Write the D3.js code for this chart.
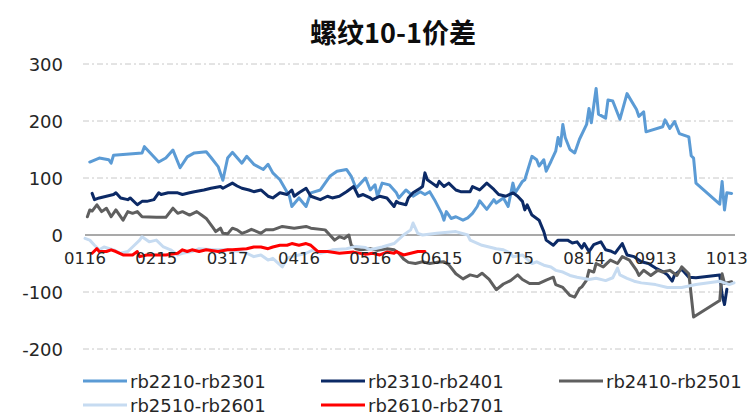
<!DOCTYPE html>
<html>
<head>
<meta charset="utf-8">
<script src="https://cdn.jsdelivr.net/npm/d3@7"></script>
<style>
  body { margin: 0; background: #fff; }
  svg { display: block; }
  text { font-family: "DejaVu Sans", sans-serif; fill: #262626; }
</style>
</head>
<body>
<svg id="chart" width="749" height="414"></svg>
<script>
// ---- data (MMDD -> spread) ----
const yTicks = [300, 200, 100, 0, -100, -200];
const xTickLabels = ['0116', '0215', '0317', '0416', '0516', '0615', '0715', '0814', '0913', '1013'];
const seriesNames = ['rb2210-rb2301', 'rb2310-rb2401', 'rb2410-rb2501', 'rb2510-rb2601', 'rb2610-rb2701'];
const seriesColors = ['#5b9bd5', '#0c2a66', '#5f5f5f', '#c6dbf1', '#ff0000'];

const rb2210 = [['0118',128],['0122',135],['0126',132],['0127',126],['0128',140],['0209',144],['0210',155],['0216',128],['0219',135],['0222',149],['0225',118],['0228',137],['0303',144],['0308',146],['0310',136],['0313',120],['0315',96],['0317',135],['0319',145],['0323',126],['0325',138],['0328',124],['0401',115],['0403',124],['0405',109],['0408',97],['0412',68],['0413',50],['0416',65],['0419',50],['0421',74],['0425',79],['0427',91],['0429',103],['0502',112],['0506',115],['0508',103],['0510',82],['0512',91],['0514',100],['0516',79],['0518',88],['0519',68],['0521',91],['0524',88],['0527',74],['0528',65],['0531',79],['0603',68],['0606',76],['0608',71],['0610',76],['0612',62],['0615',38],['0616',26],['0617',41],['0619',29],['0621',32],['0624',26],['0626',30],['0628',38],['0630',50],['0701',60],['0704',45],['0707',62],['0708',56],['0711',65],['0713',50],['0715',91],['0716',74],['0719',94],['0720',97],['0723',138],['0725',132],['0726',121],['0728',132],['0729',112],['0731',129],['0802',147],['0803',171],['0804',156],['0805',194],['0806',171],['0808',150],['0810',144],['0812',168],['0815',194],['0816',222],['0817',197],['0819',257],['0820',212],['0823',205],['0824',237],['0826',235],['0829',203],['0901',248],['0905',220],['0906',208],['0908',216],['0909',181],['0916',190],['0917',202],['0919',187],['0921',199],['0923',178],['0927',172],['0928',139],['0929',135],['0930',91],['1010',54],['1011',94],['1012',44],['1013',74],['1015',73]];

const rb2310 = [['0119',73],['0120',62],['0122',65],['0128',71],['0129',74],['0131',65],['0203',62],['0204',65],['0207',53],['0209',59],['0211',59],['0214',62],['0216',74],['0217',71],['0220',74],['0224',74],['0226',71],['0301',74],['0303',76],['0307',79],['0310',82],['0314',85],['0315',82],['0319',91],['0321',86],['0323',82],['0326',79],['0328',76],['0331',79],['0403',68],['0405',65],['0408',74],['0411',71],['0413',79],['0414',68],['0416',74],['0419',82],['0421',68],['0425',62],['0428',68],['0430',65],['0503',68],['0506',76],['0509',85],['0511',68],['0513',71],['0516',65],['0517',62],['0520',68],['0523',65],['0526',50],['0527',59],['0528',56],['0531',53],['0601',65],['0603',74],['0606',82],['0607',85],['0608',109],['0609',97],['0611',91],['0613',85],['0614',94],['0616',85],['0618',91],['0621',79],['0623',76],['0627',76],['0628',85],['0701',79],['0704',91],['0707',80],['0709',71],['0712',68],['0715',74],['0717',68],['0719',59],['0720',44],['0721',53],['0723',35],['0726',26],['0728',6],['0729',-9],['0801',-18],['0803',-9],['0807',-9],['0809',-14],['0811',-12],['0813',-23],['0814',-15],['0816',-29],['0818',-17],['0821',-12],['0823',-26],['0825',-28],['0827',-32],['0828',-26],['0830',-15],['0901',-35],['0904',-38],['0907',-47],['0910',-50],['0913',-58],['0916',-64],['0918',-70],['0920',-81],['0921',-70],['0924',-60],['0927',-74],['0930',-75],['1010',-70],['1011',-105],['1012',-122],['1013',-95]];

const rb2410 = [['0117',32],['0118',44],['0119',42],['0121',53],['0123',41],['0125',47],['0127',32],['0129',44],['0201',26],['0203',41],['0205',38],['0207',41],['0209',32],['0215',31],['0219',31],['0222',47],['0224',38],['0226',41],['0301',35],['0304',41],['0306',35],['0308',29],['0311',12],['0312',6],['0314',12],['0315',3],['0317',2],['0319',12],['0321',9],['0323',3],['0325',6],['0327',10],['0331',3],['0402',9],['0405',9],['0409',15],['0414',12],['0419',15],['0421',12],['0427',9],['0429',0],['0501',-9],['0503',-3],['0505',-6],['0507',0],['0508',-18],['0510',-24],['0512',-26],['0516',-24],['0519',-27],['0523',-24],['0526',-26],['0528',-32],['0530',-42],['0601',-48],['0604',-50],['0607',-47],['0610',-50],['0613',-48],['0616',-47],['0618',-52],['0621',-68],['0624',-77],['0627',-70],['0630',-73],['0702',-67],['0705',-78],['0708',-96],['0711',-86],['0714',-80],['0717',-70],['0719',-78],['0722',-85],['0726',-85],['0729',-79],['0801',-74],['0802',-87],['0805',-92],['0808',-106],['0810',-109],['0812',-94],['0813',-91],['0815',-79],['0816',-62],['0818',-65],['0819',-50],['0822',-56],['0825',-44],['0828',-50],['0830',-38],['0902',-44],['0905',-62],['0906',-71],['0908',-62],['0911',-71],['0914',-62],['0916',-65],['0919',-62],['0922',-71],['0924',-56],['0927',-68],['0929',-144],['1010',-115],['1011',-68],['1012',-85],['1015',-82]];

const rb2510 = [['0116',-6],['0118',-9],['0120',-18],['0122',-26],['0124',-21],['0128',-26],['0131',-32],['0203',-29],['0205',-21],['0208',-9],['0209',-3],['0212',-12],['0215',-9],['0218',-21],['0221',-26],['0224',-35],['0226',-32],['0302',-29],['0305',-24],['0311',-26],['0317',-26],['0322',-29],['0325',-32],['0328',-38],['0331',-35],['0403',-44],['0405',-41],['0409',-56],['0411',-41],['0413',-38],['0416',-35],['0419',-32],['0422',-26],['0425',-32],['0428',-29],['0430',-26],['0506',-24],['0510',-20],['0514',-22],['0516',-26],['0521',-21],['0526',-15],['0530',0],['0602',9],['0603',21],['0605',3],['0607',0],['0613',3],['0621',6],['0626',0],['0627',-9],['0702',-18],['0705',-21],['0708',-24],['0711',-26],['0714',-32],['0715',-38],['0719',-35],['0723',-50],['0725',-47],['0728',-53],['0731',-56],['0802',-62],['0805',-65],['0808',-71],['0811',-74],['0816',-78],['0819',-76],['0823',-80],['0826',-75],['0828',-58],['0829',-70],['0901',-76],['0904',-81],['0907',-84],['0913',-87],['0918',-92],['0924',-92],['0930',-87],['1010',-81],['1012',-84],['1014',-87],['1016',-84]];

const rb2610 = [['0119',-32],['0121',-24],['0122',-29],['0125',-29],['0127',-26],['0129',-29],['0201',-35],['0205',-35],['0207',-29],['0208',-38],['0211',-35],['0214',-35],['0219',-35],['0224',-32],['0226',-26],['0228',-29],['0302',-26],['0305',-29],['0308',-26],['0313',-29],['0317',-26],['0319',-26],['0325',-24],['0328',-21],['0331',-21],['0403',-24],['0405',-21],['0408',-18],['0411',-18],['0413',-15],['0416',-18],['0419',-15],['0421',-18],['0424',-29],['0428',-29],['0503',-32],['0509',-30],['0514',-34],['0517',-32],['0520',-35],['0523',-30],['0526',-32],['0527',-29],['0530',-35],['0602',-32],['0605',-29],['0608',-29]];

const allSeries = [rb2210, rb2310, rb2410, rb2510, rb2610];

// ---- chart ----
const parseMD = d3.timeParse('%Y%m%d');
const toDate = (md) => parseMD('2023' + md);

const svg = d3.select('#chart');
const left = 83, right = 735;

const x = d3.scaleTime()
  .domain([toDate('0116'), toDate('1016')])
  .range([85, 734]);
const y = d3.scaleLinear()
  .domain([-200, 300])
  .range([349, 64]);

// title
svg.append('text')
  .attr('x', 393)
  .attr('y', 31)
  .attr('text-anchor', 'middle')
  .attr('dominant-baseline', 'central')
  .style('font-family', '"Noto Sans CJK SC", sans-serif')
  .style('font-weight', 'bold')
  .style('font-size', '27px')
  .style('fill', '#0d0d0d')
  .text('螺纹10-1价差');

// gridlines (dash-dot), zero line solid
svg.append('g')
  .selectAll('line')
  .data(yTicks.filter(d => d !== 0))
  .join('line')
  .attr('x1', left).attr('x2', right)
  .attr('y1', d => y(d)).attr('y2', d => y(d))
  .attr('stroke', '#c8c8c8')
  .attr('stroke-width', 1)
  .attr('stroke-dasharray', '6,3,2,3');

svg.append('line')
  .attr('x1', 85).attr('x2', right)
  .attr('y1', y(0)).attr('y2', y(0))
  .attr('stroke', '#8c8c8c')
  .attr('stroke-width', 1.5);

// y labels
svg.append('g')
  .selectAll('text')
  .data(yTicks)
  .join('text')
  .attr('x', 63)
  .attr('y', d => y(d))
  .attr('text-anchor', 'end')
  .attr('dominant-baseline', 'central')
  .style('font-size', '18px')
  .text(d => d);

// lines
const line = d3.line()
  .x(d => x(toDate(d[0])))
  .y(d => y(d[1]));

svg.append('g')
  .selectAll('path')
  .data(allSeries)
  .join('path')
  .attr('d', d => line(d))
  .attr('fill', 'none')
  .attr('stroke', (d, i) => seriesColors[i])
  .attr('stroke-width', 3)
  .attr('stroke-linejoin', 'round')
  .attr('stroke-linecap', 'round');

// x labels sit just under the zero line
svg.append('g')
  .selectAll('text')
  .data(xTickLabels)
  .join('text')
  .attr('x', d => x(toDate(d)))
  .attr('y', 258)
  .attr('text-anchor', 'middle')
  .attr('dominant-baseline', 'central')
  .style('font-size', '16.5px')
  .text(d => d);

// legend: 3 per row
const legend = svg.append('g')
  .selectAll('g')
  .data(seriesNames)
  .join('g')
  .attr('transform', (d, i) => `translate(${83 + (i % 3) * 238},${381 + Math.floor(i / 3) * 24})`);

legend.append('line')
  .attr('x1', 0).attr('x2', 44)
  .attr('stroke', (d, i) => seriesColors[i])
  .attr('stroke-width', 3);

legend.append('text')
  .attr('x', 47)
  .attr('dominant-baseline', 'central')
  .style('font-size', '18px')
  .text(d => d);
</script>
</body>
</html>
